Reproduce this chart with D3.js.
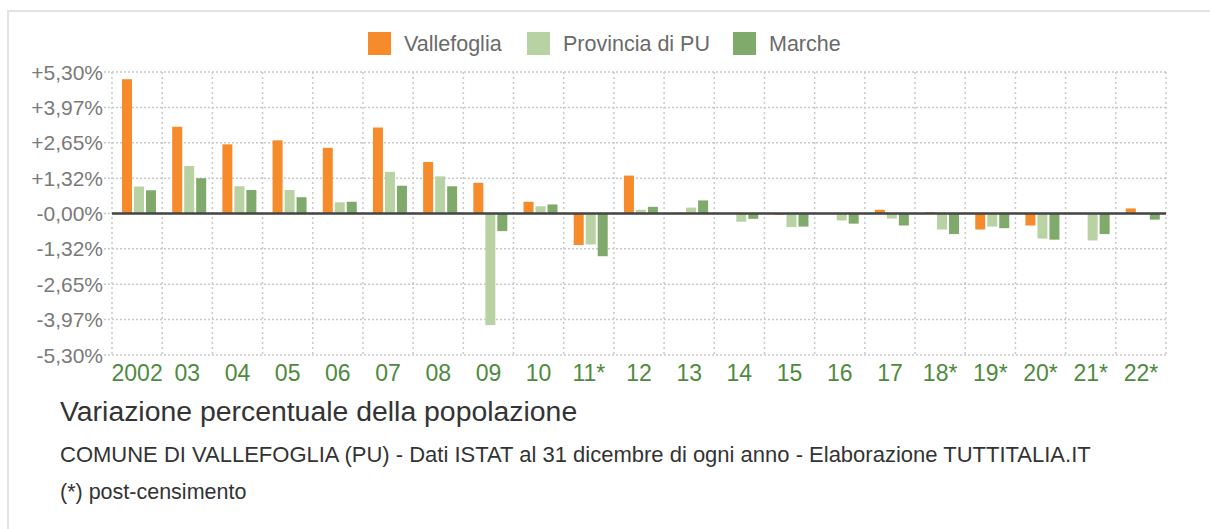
<!DOCTYPE html>
<html>
<head>
<meta charset="utf-8">
<script src="https://cdn.jsdelivr.net/npm/d3@7"></script>
<style>
  body { margin: 0; background: #fff; }
  svg { display: block; font-family: "Liberation Sans", Arial, sans-serif; }
</style>
</head>
<body>
<div id="chart"></div>
<script>
// data
var years = ["2002", "03", "04", "05", "06", "07", "08", "09", "10", "11*", "12",
             "13", "14", "15", "16", "17", "18*", "19*", "20*", "21*", "22*"];
var series = ["Vallefoglia", "Provincia di PU", "Marche"];
var vallefoglia = [5.03, 3.25, 2.59, 2.74, 2.46, 3.22, 1.93, 1.15, 0.44, -1.18, 1.42,
                   0.03, 0.00, -0.05, 0.00, 0.14, 0.05, -0.60, -0.45, 0.02, 0.19];
var provincia   = [1.01, 1.78, 1.02, 0.88, 0.42, 1.56, 1.39, -4.18, 0.27, -1.16, 0.14,
                   0.22, -0.31, -0.51, -0.26, -0.19, -0.60, -0.49, -0.94, -1.01, -0.03];
var marche      = [0.87, 1.32, 0.88, 0.61, 0.44, 1.04, 1.02, -0.66, 0.34, -1.60, 0.25,
                   0.49, -0.20, -0.49, -0.38, -0.45, -0.77, -0.55, -0.98, -0.77, -0.23];
var yTicks = [5.30, 3.97, 2.65, 1.32, 0, -1.32, -2.65, -3.97, -5.30];
var yTickLabels = ["+5,30%", "+3,97%", "+2,65%", "+1,32%", "-0,00%",
                   "-1,32%", "-2,65%", "-3,97%", "-5,30%"];
var colors = ["#f68b2c", "#b9d2a4", "#80aa6c"];

var W = 1210, H = 529;
var margin = {top: 72, left: 112, right: 44, bottom: 174};
var width = W - margin.left - margin.right,
    height = H - margin.top - margin.bottom;

var svg = d3.select("#chart").append("svg")
    .attr("width", W)
    .attr("height", H);

// container frame
svg.append("path")
    .attr("d", "M8,529 L8,11 L1210,11")
    .attr("fill", "none")
    .attr("stroke", "#e3e3e3")
    .attr("stroke-width", 2);

var g = svg.append("g")
    .attr("transform", "translate(" + margin.left + "," + margin.top + ")");

var x0 = d3.scaleBand().domain(years).range([0, width]);
var x1 = d3.scaleBand().domain(series).range([10, 44]).paddingInner(1 / 6);
var y = d3.scaleLinear().domain([-5.30, 5.30]).range([height, 0]);

// grid
g.selectAll(".hgrid")
  .data(yTicks)
  .enter().append("line")
    .attr("x1", -8).attr("x2", width)
    .attr("y1", function(d) { return y(d); })
    .attr("y2", function(d) { return y(d); })
    .attr("stroke", "#c9c9c9")
    .attr("stroke-width", 1.5)
    .attr("stroke-dasharray", "2,2");

g.selectAll(".vgrid")
  .data(years.concat(["end"]))
  .enter().append("line")
    .attr("x1", function(d, i) { return i < years.length ? x0(d) : width; })
    .attr("x2", function(d, i) { return i < years.length ? x0(d) : width; })
    .attr("y1", 0).attr("y2", height)
    .attr("stroke", "#c9c9c9")
    .attr("stroke-width", 1.5)
    .attr("stroke-dasharray", "2,3");

// y labels
g.selectAll(".ylab")
  .data(yTicks)
  .enter().append("text")
    .attr("x", -9)
    .attr("y", function(d) { return y(d); })
    .attr("dy", "0.36em")
    .attr("text-anchor", "end")
    .attr("fill", "#7a7a7a")
    .style("font-size", "21px")
    .text(function(d, i) { return yTickLabels[i]; });

// bars
var table = years.map(function(yr, i) {
  return {year: yr, values: [vallefoglia[i], provincia[i], marche[i]]};
});

var groups = g.selectAll(".grp")
  .data(table)
  .enter().append("g")
    .attr("transform", function(d) { return "translate(" + x0(d.year) + ",0)"; });

groups.selectAll("rect")
  .data(function(d) { return d.values.map(function(v, k) { return {s: series[k], v: v, k: k}; }); })
  .enter().append("rect")
    .attr("x", function(d) { return x1(d.s); })
    .attr("width", x1.bandwidth())
    .attr("y", function(d) { return y(Math.max(0, d.v)); })
    .attr("height", function(d) { return Math.abs(y(d.v) - y(0)); })
    .attr("fill", function(d) { return colors[d.k]; });

// zero line
g.append("line")
    .attr("x1", 0).attr("x2", width)
    .attr("y1", y(0)).attr("y2", y(0))
    .attr("stroke", "#444")
    .attr("stroke-width", 2.5);

// x labels
g.selectAll(".xlab")
  .data(years)
  .enter().append("text")
    .attr("x", function(d) { return x0(d) + x0.bandwidth() / 2; })
    .attr("y", height + 26)
    .attr("text-anchor", "middle")
    .attr("fill", "#4e8a3e")
    .style("font-size", "23px")
    .text(function(d) { return d; });

// legend
var legendX = [368, 527, 733];
var legend = svg.selectAll(".leg")
  .data(series)
  .enter().append("g")
    .attr("transform", function(d, i) { return "translate(" + legendX[i] + ",32)"; });
legend.append("rect")
    .attr("width", 23).attr("height", 23)
    .attr("fill", function(d, i) { return colors[i]; });
legend.append("text")
    .attr("x", 36).attr("y", 19)
    .attr("fill", "#6a6a6a")
    .style("font-size", "21.5px")
    .text(function(d) { return d; });

// captions
svg.append("text")
    .attr("x", 60).attr("y", 421)
    .attr("fill", "#333")
    .style("font-size", "28.4px")
    .text("Variazione percentuale della popolazione");
svg.append("text")
    .attr("x", 60).attr("y", 462)
    .attr("fill", "#333")
    .style("font-size", "22px")
    .text("COMUNE DI VALLEFOGLIA (PU) - Dati ISTAT al 31 dicembre di ogni anno - Elaborazione TUTTITALIA.IT");
svg.append("text")
    .attr("x", 60).attr("y", 499)
    .attr("fill", "#333")
    .style("font-size", "21.5px")
    .text("(*) post-censimento");
</script>
</body>
</html>
